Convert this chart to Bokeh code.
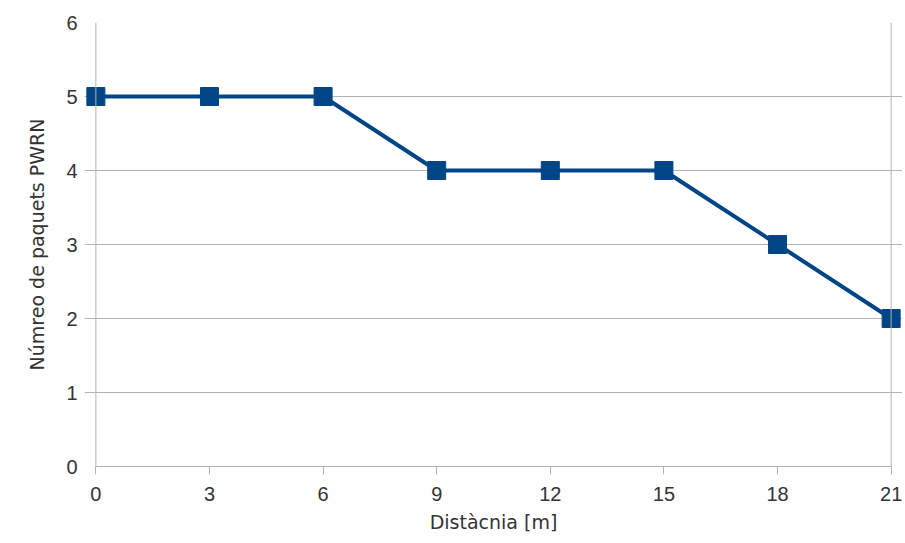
from bokeh.plotting import figure
from bokeh.models import Range1d, FixedTicker, Span
from bokeh.embed import file_html
from bokeh.resources import INLINE

distance = [0, 3, 6, 9, 12, 15, 18, 21]
packets = [5, 5, 5, 4, 4, 4, 3, 2]
x_ticks = [0, 3, 6, 9, 12, 15, 18, 21]
y_ticks = [0, 1, 2, 3, 4, 5, 6]
x_min, x_max = 0, 21
y_min, y_max = 0, 6

color = "#004586"
grid = "#b3b3b3"
tick_font = "Liberation Sans"
title_font = "DejaVu Sans"
pad = 0.3
frame_w = 818
tick_len_units = 8 / (frame_w / (x_max - x_min + 2 * pad))

p = figure(frame_width=frame_w, frame_height=444, output_backend="svg", toolbar_location=None,
           x_range=Range1d(x_min - pad, x_max + pad), y_range=Range1d(y_min, y_max),
           min_border_left=84, min_border_top=22, min_border_right=0, min_border_bottom=69)
p.outline_line_color = None

p.line(distance, packets, line_color=color, line_width=4)
p.scatter(distance, packets, marker="square", size=18, fill_color=color, line_color=color)

p.add_layout(Span(location=x_min, dimension="height", line_color=grid, line_width=1))
p.add_layout(Span(location=x_max, dimension="height", line_color=grid, line_width=1))

p.xaxis.ticker = FixedTicker(ticks=x_ticks)
p.yaxis.ticker = FixedTicker(ticks=y_ticks)
p.xaxis.bounds = (x_min, x_max)
p.xgrid.grid_line_color = None
p.ygrid.grid_line_color = grid
p.ygrid.grid_line_width = 1
p.ygrid.bounds = (x_min - tick_len_units, x_max)
for ax in (p.xaxis, p.yaxis):
    ax.axis_line_color = grid
    ax.major_tick_line_color = grid
    ax.major_tick_out = 8
    ax.major_tick_in = 0
    ax.minor_tick_line_color = None
    ax.major_label_text_font = tick_font
    ax.major_label_text_font_size = "20px"
    ax.major_label_text_color = "#333333"
    ax.axis_label_text_font = title_font
    ax.axis_label_text_font_size = "19px"
    ax.axis_label_text_font_style = "normal"
    ax.axis_label_text_color = "#333333"
p.yaxis.axis_line_color = None
p.yaxis.major_tick_line_color = None
p.yaxis.major_tick_out = 0
p.xaxis.axis_label = "Distàcnia [m]"
p.yaxis.axis_label = "Númreo de paquets PWRN"
p.xaxis.major_label_standoff = 12
p.yaxis.major_label_standoff = 7
p.xaxis.axis_label_standoff = 7
p.yaxis.axis_label_standoff = 15

open("out.html", "w").write(file_html(p, INLINE))
